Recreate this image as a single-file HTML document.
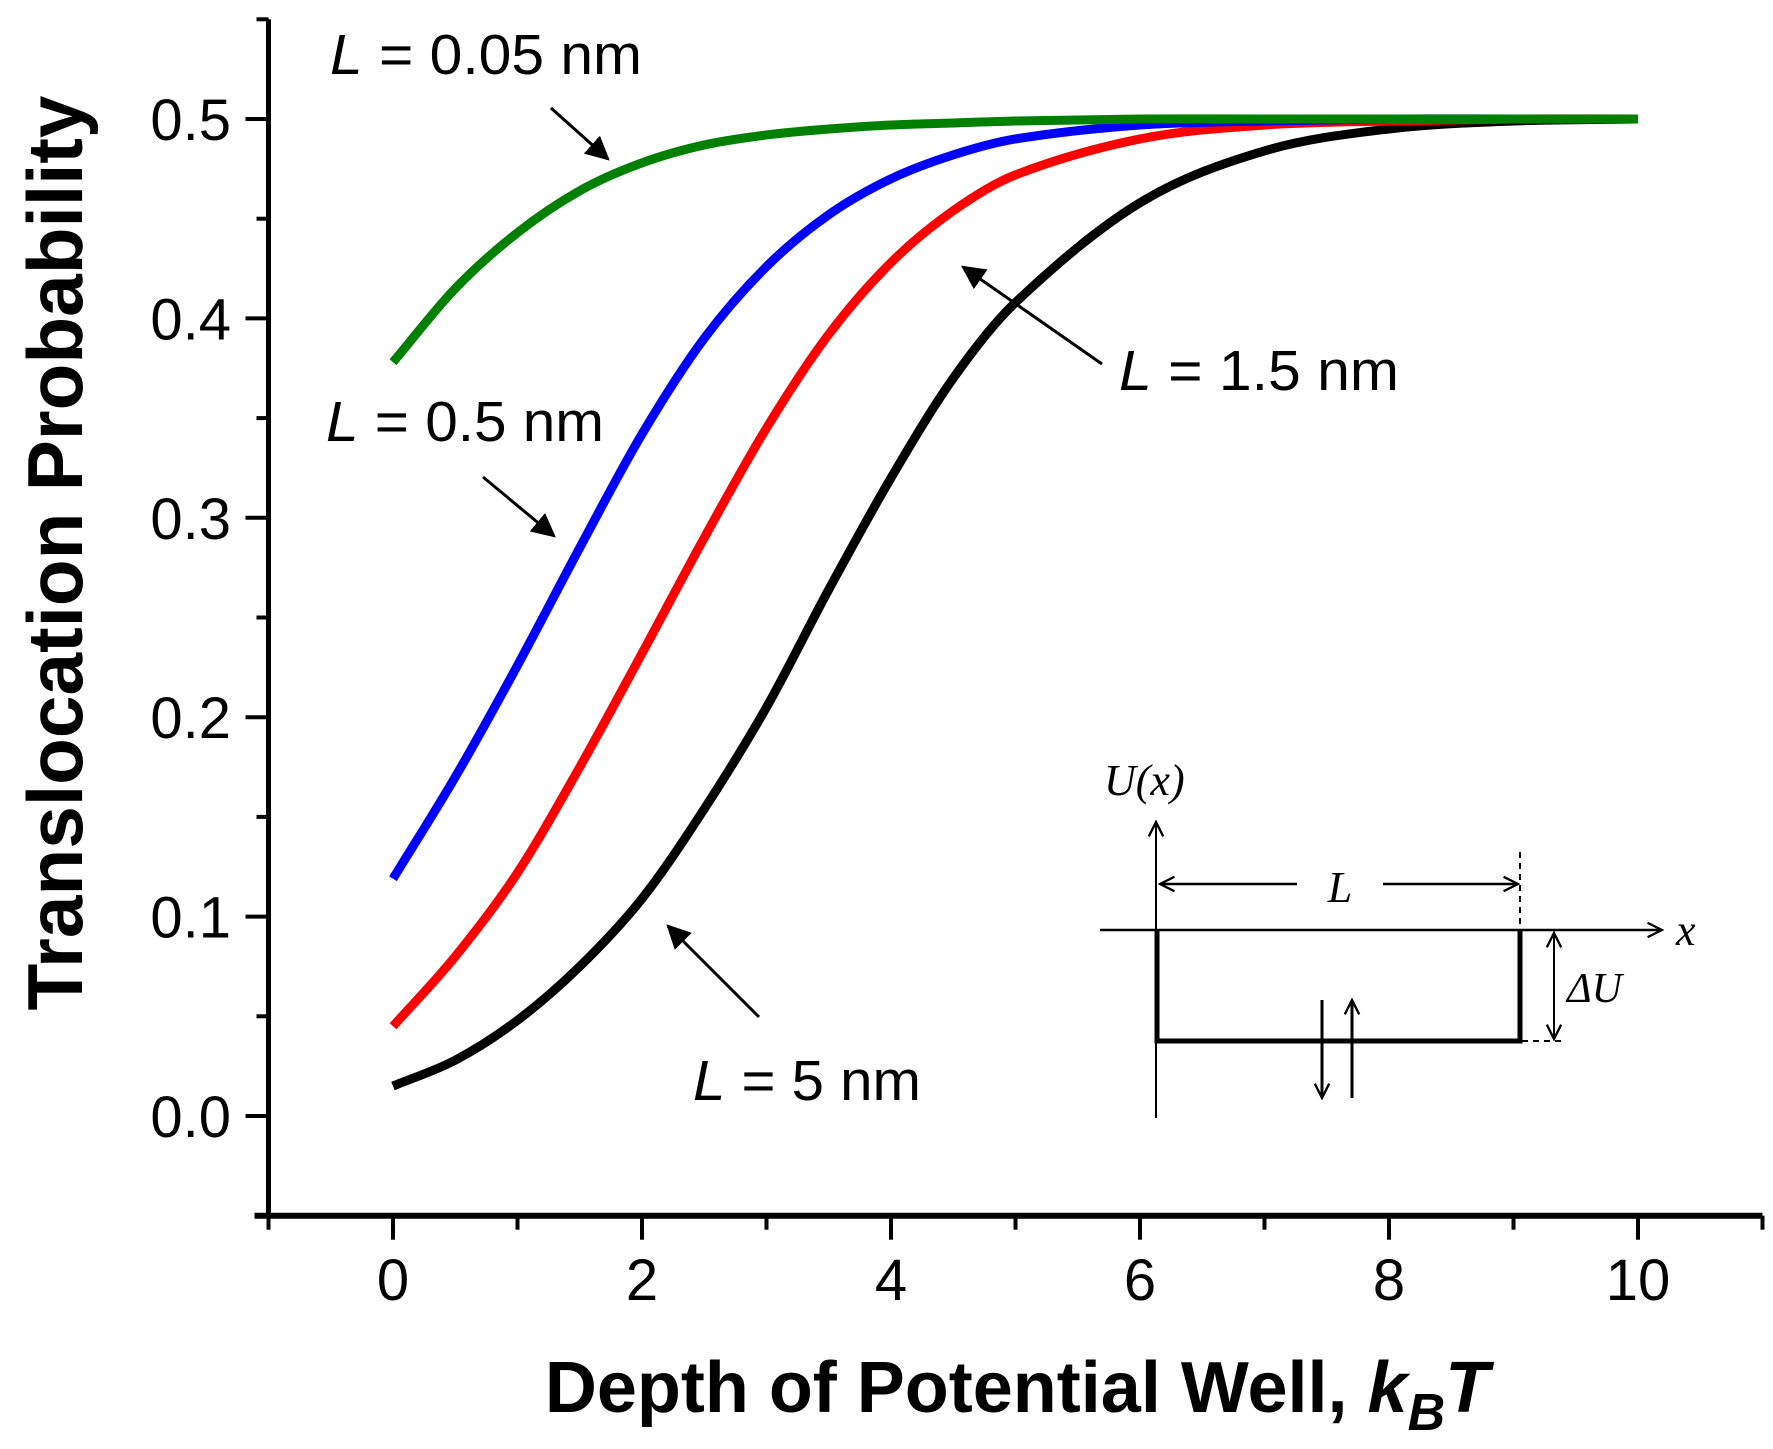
<!DOCTYPE html>
<html><head><meta charset="utf-8"><style>
html,body{margin:0;padding:0;background:#fff;}
svg{display:block;font-family:"Liberation Sans",Arial,sans-serif;}
</style></head><body>
<svg id="chart" width="1773" height="1449" viewBox="0 0 1773 1449">
<defs>
<marker id="ah2" viewBox="0 0 10 10" refX="9" refY="5" markerWidth="24" markerHeight="24" orient="auto" markerUnits="userSpaceOnUse"><path d="M0,0 L10,5 L0,10 z" fill="#000"/></marker>
<marker id="oa" viewBox="0 0 10 10" refX="9" refY="5" markerWidth="18" markerHeight="18" orient="auto" markerUnits="userSpaceOnUse"><path d="M1,1 L9,5 L1,9" fill="none" stroke="#000" stroke-width="1.3"/></marker>
</defs>
<g id="axes"></g>
<g id="series"></g>
<g font-size="57">
<text x="330" y="74" textLength="312" lengthAdjust="spacingAndGlyphs"><tspan font-style="italic">L</tspan> = 0.05 nm</text>
<line x1="551" y1="108" x2="608" y2="159" stroke="#000" stroke-width="3" marker-end="url(#ah2)"/>
<text x="326" y="441" textLength="278" lengthAdjust="spacingAndGlyphs"><tspan font-style="italic">L</tspan> = 0.5 nm</text>
<line x1="483" y1="477" x2="554" y2="536" stroke="#000" stroke-width="3" marker-end="url(#ah2)"/>
<text x="1119" y="390" textLength="280" lengthAdjust="spacingAndGlyphs"><tspan font-style="italic">L</tspan> = 1.5 nm</text>
<line x1="1102" y1="364" x2="963" y2="267" stroke="#000" stroke-width="3" marker-end="url(#ah2)"/>
<text x="693" y="1100" textLength="228" lengthAdjust="spacingAndGlyphs"><tspan font-style="italic">L</tspan> = 5 nm</text>
<line x1="759" y1="1017" x2="668" y2="926" stroke="#000" stroke-width="3" marker-end="url(#ah2)"/>
</g>
<g font-family="'Liberation Serif',serif" font-style="italic">
<text x="1104" y="795" font-size="44">U(x)</text>
<line x1="1156" y1="1118" x2="1156" y2="822" stroke="#000" stroke-width="2" marker-end="url(#oa)"/>
<line x1="1100" y1="930" x2="1662" y2="930" stroke="#000" stroke-width="2.5" marker-end="url(#oa)"/>
<text x="1676" y="945" font-size="44">x</text>
<polyline points="1157,930 1157,1041 1520,1041 1520,930" fill="none" stroke="#000" stroke-width="5"/>
<line x1="1520" y1="852" x2="1520" y2="930" stroke="#000" stroke-width="2" stroke-dasharray="6,5"/>
<line x1="1522" y1="1041" x2="1565" y2="1041" stroke="#000" stroke-width="2" stroke-dasharray="6,5"/>
<line x1="1297" y1="884" x2="1160" y2="884" stroke="#000" stroke-width="2.5" marker-end="url(#oa)"/>
<line x1="1383" y1="884" x2="1518" y2="884" stroke="#000" stroke-width="2.5" marker-end="url(#oa)"/>
<text x="1340" y="902" font-size="44" text-anchor="middle">L</text>
<line x1="1554" y1="985" x2="1554" y2="933" stroke="#000" stroke-width="2" marker-end="url(#oa)"/>
<line x1="1554" y1="985" x2="1554" y2="1039" stroke="#000" stroke-width="2" marker-end="url(#oa)"/>
<text x="1567" y="1002" font-size="42">ΔU</text>
<line x1="1322" y1="1000" x2="1322" y2="1098" stroke="#000" stroke-width="3" marker-end="url(#oa)"/>
<line x1="1352" y1="1098" x2="1352" y2="1000" stroke="#000" stroke-width="3" marker-end="url(#oa)"/>
</g>
</svg>
<script>
const xTicks = [0, 2, 4, 6, 8, 10];
const yTicks = [0.0, 0.1, 0.2, 0.3, 0.4, 0.5];
const yTickLabels = ["0.0", "0.1", "0.2", "0.3", "0.4", "0.5"];
const xGrid = [0, 0.5, 1, 1.5, 2, 2.5, 3, 3.5, 4, 4.5, 5, 6, 7, 8, 9, 10];
const yGreen = [0.378, 0.415, 0.443, 0.464, 0.478, 0.487, 0.492, 0.495, 0.497, 0.498, 0.499, 0.5, 0.5, 0.5, 0.5, 0.5];
const yBlue = [0.119, 0.17, 0.226, 0.285, 0.342, 0.39, 0.426, 0.452, 0.47, 0.482, 0.49, 0.497, 0.499, 0.5, 0.5, 0.5];
const yRed = [0.045, 0.08, 0.122, 0.175, 0.232, 0.29, 0.345, 0.392, 0.428, 0.454, 0.472, 0.49, 0.497, 0.499, 0.5, 0.5];
const yBlack = [0.015, 0.028, 0.048, 0.075, 0.109, 0.154, 0.205, 0.264, 0.32, 0.37, 0.408, 0.458, 0.484, 0.495, 0.499, 0.5];

const NS = "http://www.w3.org/2000/svg";
const X0 = 393, XS = 124.5, Y0 = 1116, YS = 1994;
function sx(v){ return X0 + XS * v; }
function sy(v){ return Y0 - YS * v; }
function mk(tag, attrs, parent){ const e = document.createElementNS(NS, tag); for (const k in attrs) e.setAttribute(k, attrs[k]); parent.appendChild(e); return e; }
const axes = document.getElementById('axes');
const series = document.getElementById('series');

const yAxis = mk('line', {x1: sx(-1), y1: sy(0.55), x2: sx(-1), y2: sy(-0.05)+2, stroke: '#000', 'stroke-width': 5}, axes);


const xAxis = mk('line', {x1: sx(-1)-14, y1: sy(-0.05), x2: sx(11), y2: sy(-0.05), stroke: '#000', 'stroke-width': 6}, axes);



for (let v = -1; v <= 11; v++) {
  const major = xTicks.includes(v);
  const t = mk('line', {x1: sx(v), y1: sy(-0.05), x2: sx(v), y2: sy(-0.05) + (major ? 24 : 14), stroke: '#000', 'stroke-width': 4}, axes);
  
  
}
xTicks.forEach(v => {
  const t = mk('text', {x: sx(v), y: 1300, 'font-size': 58, 'text-anchor': 'middle'}, axes);
  t.textContent = String(v);
  
  
});
for (let i = -1; i <= 11; i++) {
  const v = i * 0.05;
  const major = i % 2 === 0;
  const t = mk('line', {x1: sx(-1) - (major ? 23 : 12), y1: sy(v), x2: sx(-1), y2: sy(v), stroke: '#000', 'stroke-width': 4}, axes);
  
  
}
yTicks.forEach((v, i) => {
  const t = mk('text', {x: 231, y: sy(v) + 21, 'font-size': 58, 'text-anchor': 'end'}, axes);
  t.textContent = yTickLabels[i];
  
  
});
const yt = mk('text', {x: 0, y: 0, 'font-size': 78, 'font-weight': 'bold', 'text-anchor': 'middle', textLength: 915, lengthAdjust: 'spacingAndGlyphs', transform: 'translate(82,553) rotate(-90)'}, axes);
yt.textContent = 'Translocation Probability';


const xt = mk('text', {x: 1017, y: 1412, 'font-size': 72, 'font-weight': 'bold', 'text-anchor': 'middle'}, axes);
xt.innerHTML = 'Depth of Potential Well, <tspan font-style="italic">k</tspan><tspan font-style="italic" font-size="52" dy="18">B</tspan><tspan font-style="italic" dy="-18">T</tspan>';



function pathFor(xs, ys){
  const p = xs.map((x, i) => [sx(x), sy(ys[i])]);
  let d = 'M' + p[0][0] + ',' + p[0][1];
  for (let i = 0; i < p.length - 1; i++) {
    const p0 = p[i-1] || p[i], p1 = p[i], p2 = p[i+1], p3 = p[i+2] || p2;
    const h = p2[0] - p1[0];
    const m1 = (p2[1]-p0[1])/((p2[0]-p0[0])||1), m2 = (p3[1]-p1[1])/((p3[0]-p1[0])||1);
    const c1 = [p1[0] + h/3, p1[1] + m1*h/3];
    const c2 = [p2[0] - h/3, p2[1] - m2*h/3];
    d += ' C' + c1.join(',') + ' ' + c2.join(',') + ' ' + p2.join(',');
  }
  return d;
}
[[yBlack, '#000000', 'curve-l-5nm'], [yRed, '#ff0000', 'curve-l-1.5nm'], [yBlue, '#0000ff', 'curve-l-0.5nm'], [yGreen, '#008000', 'curve-l-0.05nm']].forEach(s => {
  const el = mk('path', {d: pathFor(xGrid, s[0]), fill: 'none', stroke: s[1], 'stroke-width': 9}, series);
  
  
});
</script>
</body></html>
